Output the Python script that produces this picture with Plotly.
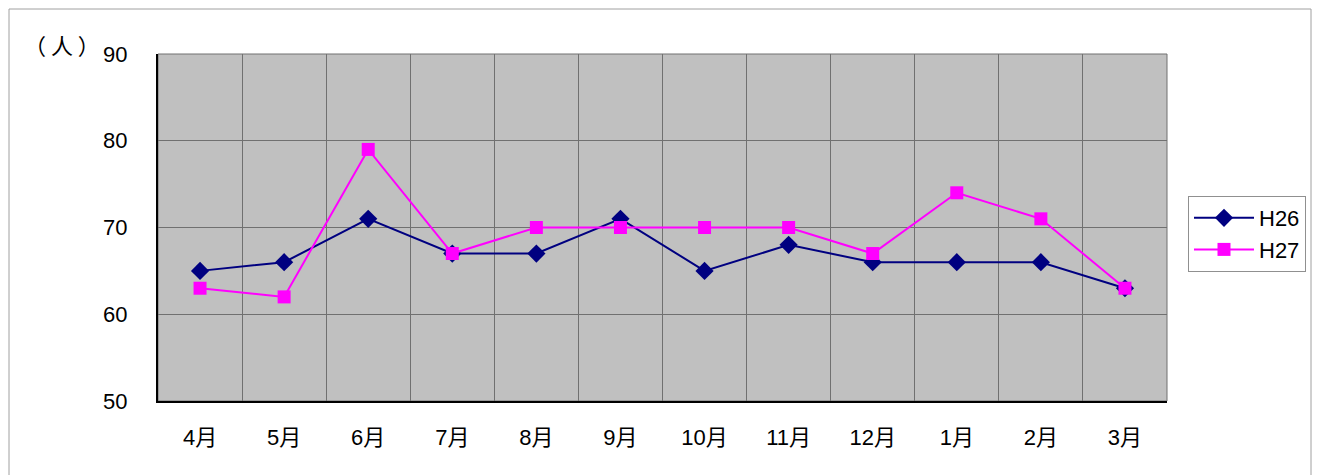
import plotly.graph_objects as go

months = ["4月", "5月", "6月", "7月", "8月", "9月", "10月", "11月", "12月", "1月", "2月", "3月"]
h26 = [65, 66, 71, 67, 67, 71, 65, 68, 66, 66, 66, 63]
h27 = [63, 62, 79, 67, 70, 70, 70, 70, 67, 74, 71, 63]
y_ticks = [50, 60, 70, 80, 90]

OFF = 8  # page body margin
W, H = 1321 - OFF, 475 - OFF
L, R, T, B = 158 - OFF, 1167 - OFF, 54 - OFF, 401 - OFF
FONT = "Liberation Sans, Noto Sans CJK JP, sans-serif"
FS = 22

fig = go.Figure()
fig.add_trace(go.Scatter(x=months, y=h26, name="H26", mode="lines+markers",
                         line=dict(color="#000080", width=2),
                         marker=dict(symbol="diamond", size=14, color="#000080")))
fig.add_trace(go.Scatter(x=months, y=h27, name="H27", mode="lines+markers",
                         line=dict(color="#FF00FF", width=2),
                         marker=dict(symbol="square", size=13, color="#FF00FF")))

pw, ph = R - L, B - T
def px_x(x):
    return (x - OFF - L) / pw
def px_y(y):
    return (B - (y - OFF)) / ph

fig.update_layout(
    width=W, height=H,
    margin=dict(l=L, r=W - R, t=T, b=H - B),
    paper_bgcolor="white", plot_bgcolor="#C0C0C0",
    font=dict(family=FONT, size=FS, color="black"),
    showlegend=True,
    legend=dict(x=px_x(1188), y=px_y(196), xanchor="left", yanchor="top",
                bgcolor="white", bordercolor="#909090", borderwidth=1,
                font=dict(size=FS), tracegroupgap=2, itemwidth=60),
    xaxis=dict(type="category", tickson="boundaries", showgrid=True,
               gridcolor="#707070", gridwidth=1, showline=True, linecolor="black",
               linewidth=2, ticks="", ticklen=0, tickfont=dict(size=FS),
               range=[-0.5, 11.5], ticklabelstandoff=16),
    yaxis=dict(range=[50, 90], tickvals=y_ticks, showgrid=True, gridcolor="#707070",
               gridwidth=1, showline=True, linecolor="black", linewidth=2,
               ticks="", tickfont=dict(size=FS), zeroline=False,
               ticklabelstandoff=24),
    shapes=[
        dict(type="rect", xref="paper", yref="paper", x0=0, x1=1, y0=0, y1=1,
             line=dict(color="#707070", width=1), layer="below"),
        dict(type="rect", xref="paper", yref="paper",
             x0=px_x(9), x1=px_x(1311), y0=px_y(490), y1=px_y(9),
             line=dict(color="#A0A0A0", width=1)),
    ],
    annotations=[
        dict(text="（ 人 ）", xref="paper", yref="paper", x=px_x(22), y=px_y(44),
             xanchor="left", yanchor="middle", showarrow=False,
             font=dict(family="Noto Sans CJK SC", size=22)),
    ],
)

fig.write_html("out.html")
